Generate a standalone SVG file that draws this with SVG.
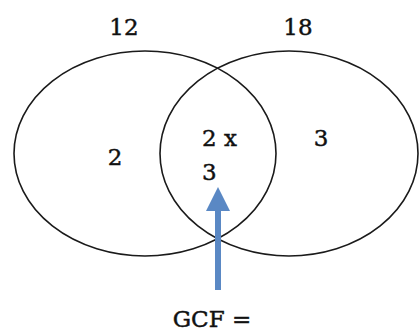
<svg xmlns="http://www.w3.org/2000/svg" width="419" height="331" viewBox="0 0 419 331">
<style>
.c{fill:none;stroke:#1a1a1a;stroke-width:1.6}
.t{font-family:"DejaVu Serif","Liberation Serif",serif;font-size:23px;fill:#111;stroke:#111;stroke-width:0.45}
</style>
<defs>
<marker id="ah" markerWidth="4" markerHeight="4" refX="1" refY="2" orient="auto" markerUnits="strokeWidth">
<path d="M0,0 L4,2 L0,4 Z" fill="#5a88c4"/>
</marker>
</defs>
<rect width="419" height="331" fill="#fff"/>
<g id="left-set"><ellipse class="c" cx="145" cy="153.5" rx="131" ry="102.5"/><text class="t" x="124" y="35" text-anchor="middle">12</text><text class="t" x="115" y="165" text-anchor="middle">2</text></g>
<g id="right-set"><ellipse class="c" cx="289" cy="153.5" rx="129" ry="102.5"/><text class="t" x="298" y="35" text-anchor="middle">18</text><text class="t" x="321" y="146" text-anchor="middle">3</text></g>
<g id="intersection"><text class="t" x="202" y="146">2 x</text><text class="t" x="202" y="180">3</text></g>
<g id="connectors"><line x1="218" y1="290" x2="218" y2="205" stroke="#5a88c4" stroke-width="6" marker-end="url(#ah)"/></g>
<g id="gcf"><text class="t" x="212" y="327" text-anchor="middle">GCF =</text></g>
</svg>
